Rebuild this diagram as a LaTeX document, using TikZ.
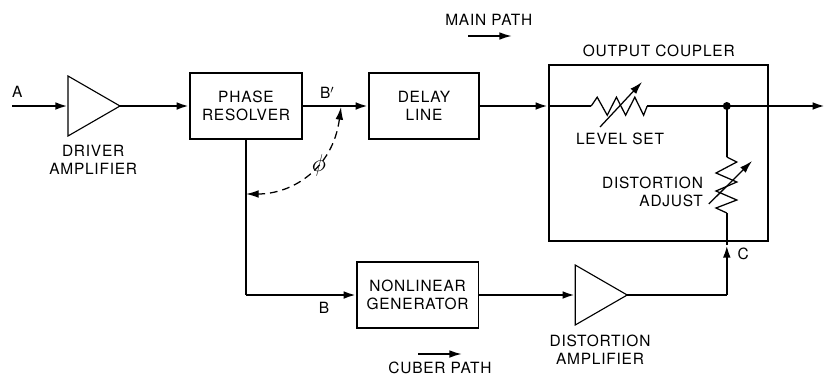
\documentclass[tikz,border=0pt]{standalone}
\usepackage{amsmath}
\usepackage{fontspec}
\setmainfont[LetterSpace=5]{TeX Gyre Heros}
\usetikzlibrary{shapes.geometric,arrows.meta,positioning}

\begin{document}
\begin{tikzpicture}[>={Latex[length=9pt,width=5.5pt]},
    block/.style={rectangle, draw, line width=1pt, inner sep=0pt, minimum height=1.65cm, align=center, font=\fontsize{11}{12.6}\selectfont},
    amp/.style={isosceles triangle, isosceles triangle stretches, draw, line width=0.8pt, inner sep=0pt, outer sep=0pt, minimum width=1.5cm, minimum height=1.3cm, anchor=lower side},
    lab/.style={font=\fontsize{11}{12.6}\selectfont, align=center, inner sep=0pt},
    ar/.style={line width=1.7pt,->},
    wire/.style={line width=1.7pt},
    thin wire/.style={line width=1.2pt},
    pot/.style={line width=0.9pt},
    phase/.style={dash pattern=on 5.5pt off 3.5pt, line width=0.9pt, <->}]
    \useasboundingbox (0,0) rectangle (20.65,9.425);
    % blocks
    \node [block, minimum width=2.8cm] (resolver) at (6.15,6.775) {PHASE\\RESOLVER};
    \node [block, minimum width=2.75cm] (delay) at (10.6,6.775) {DELAY\\LINE};
    \node [block, minimum width=3.03cm] (nonlin) at (10.44,2.05) {NONLINEAR\\GENERATOR};
    \node [block, minimum width=5.475cm, minimum height=4.4cm] (coupler) at (16.46,5.6) {};
    \node [amp] (driver) at (1.7,6.775) {};
    \node [amp] (distamp) at (14.38,2.05) {};
    % free ends and junctions
    \coordinate (inp) at (0.3,6.775);
    \coordinate (outp) at (20.63,6.775);
    \coordinate (join) at (18.17,6.775);
    \coordinate (setL) at (14.78,6.775);
    \coordinate (setR) at (16.18,6.775);
    \coordinate (adjT) at (18.17,5.5);
    \coordinate (adjB) at (18.17,4.1);
    \coordinate (inC) at (18.17,3.3);
    \coordinate (turn) at (18.17,2.05);
    \coordinate (tapB) at (6.15,2.05);
    \coordinate (tapphi) at (6.15,4.575);
    \coordinate (tapmain) at (8.525,6.75);
    % main path
    \draw [ar] (inp) -- (driver.lower side);
    \draw [ar] (driver.apex) -- (resolver.west);
    \draw [ar] (resolver.east) -- (delay.west);
    \draw [ar] (delay.east) -- (delay.east -| coupler.west);
    \draw [wire] (delay.east -| coupler.west) -- (setL);
    \draw [wire] (setR) -- (join);
    \draw [ar] (join) -- (outp);
    \fill (join) circle (0.1);
    % cuber path
    \draw [wire] (resolver.south) -- (tapB);
    \draw [ar] (tapB) -- (nonlin.west);
    \draw [ar] (nonlin.east) -- (distamp.lower side);
    \draw [wire] (distamp.apex) -- (turn);
    \draw [ar] (turn) -- (inC);
    \draw [thin wire] (inC) -- (adjB);
    \draw [thin wire] (join) -- (adjT);
    % resistors
    \draw [pot] (setL) -- ++(0.15,0.22) -- ++(0.25,-0.45) -- ++(0.23,0.45) -- ++(0.23,-0.45) -- ++(0.23,0.45) -- ++(0.22,-0.45) -- (setR);
    \draw [pot, ->] (15,6.25) -- (16.05,7.375);
    \draw [pot] (adjT) -- (18.42,5.375) -- (17.9,5.1) -- (18.42,4.875) -- (17.9,4.65) -- (18.42,4.425) -- (17.9,4.225) -- (adjB);
    \draw [pot, ->] (17.72,4.325) -- (18.8,5.4);
    % phase arc
    \draw [phase] (tapmain) .. controls (8.325,5.225) and (7.325,4.575) .. (tapphi);
    \node [lab, font=\fontsize{18}{18}\selectfont] (phi) at (7.97,5.3) {$\phi$};
    % labels
    \node [lab] (la) at (0.43,7.13) {A};
    \node [lab] (lb) at (8.18,7.1) {B$'$};
    \node [lab] (lbb) at (8.1,1.73) {B};
    \node [lab] (lc) at (18.58,3.08) {C};
    \node [lab] (ldrv) at (2.33,5.42) {DRIVER\\AMPLIFIER};
    \node [lab] (ldst) at (15,0.68) {DISTORTION\\AMPLIFIER};
    \node [lab] (lmain) at (12.22,8.93) {MAIN PATH};
    \node [lab] (lcub) at (11,0.24) {CUBER PATH};
    \node [lab] (lout) at (16.47,8.15) {OUTPUT COUPLER};
    \node [lab] (lset) at (15.5,5.95) {LEVEL SET};
    \node [lab, align=right, anchor=east] (ladj) at (17.58,4.625) {DISTORTION\\ADJUST};
    % path arrows
    \coordinate (mainA) at (11.7,8.525);
    \coordinate (mainB) at (12.8,8.525);
    \draw [->, line width=1.3pt] (mainA) -- (mainB);
    \coordinate (cubA) at (10.45,0.575);
    \coordinate (cubB) at (11.55,0.575);
    \draw [->, line width=1.3pt] (cubA) -- (cubB);
\end{tikzpicture}
\end{document}
